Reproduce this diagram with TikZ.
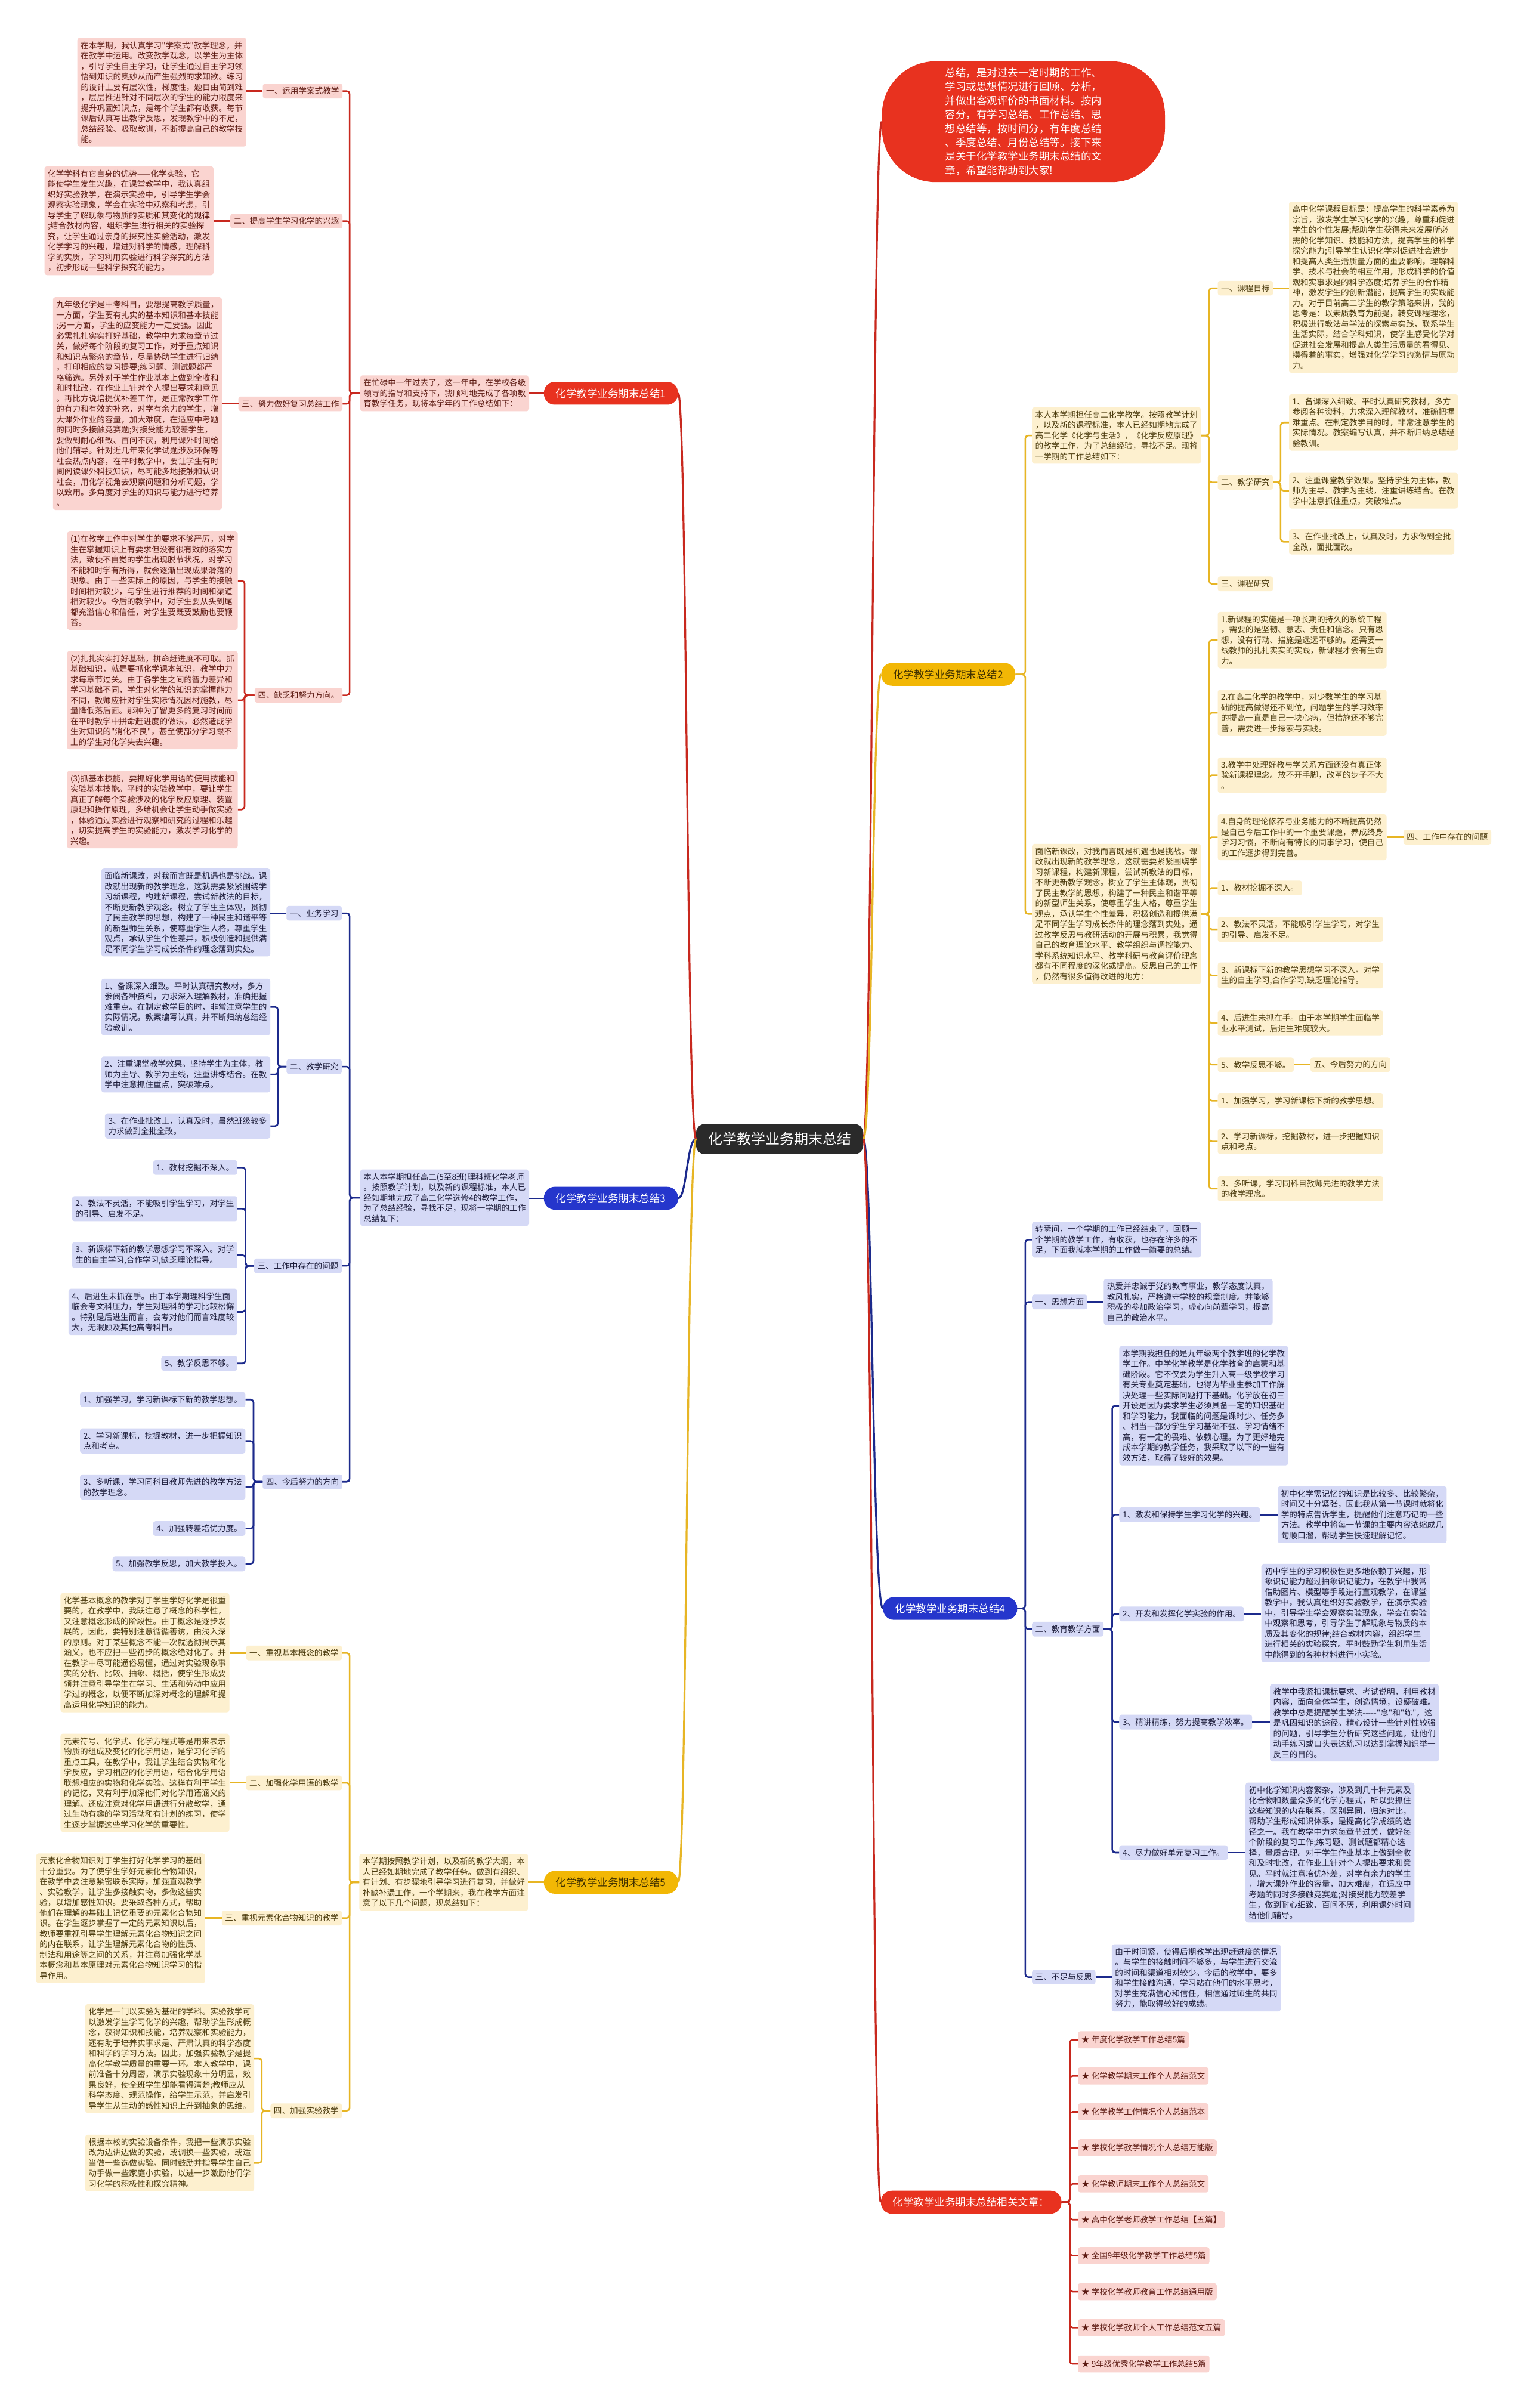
\documentclass[tikz,border=0pt]{standalone}
\usepackage{fontspec}
\setmainfont{Noto Sans CJK SC}[Ligatures=TeXOff]
\usetikzlibrary{calc}
\definecolor{rmain}{HTML}{E8321F}
\definecolor{rline}{HTML}{C8281E}
\definecolor{rfill}{HTML}{FAD4D0}
\definecolor{rtext}{HTML}{5C1A12}
\definecolor{bmain}{HTML}{2536CC}
\definecolor{bline}{HTML}{1C2A8C}
\definecolor{bfill}{HTML}{D5D9F6}
\definecolor{btext}{HTML}{1C1C3A}
\definecolor{gmain}{HTML}{F2B705}
\definecolor{gline}{HTML}{E7B524}
\definecolor{gfill}{HTML}{FDF0CF}
\definecolor{gtext}{HTML}{4A3A0C}
\definecolor{gdark}{HTML}{3F3000}
\definecolor{cfill}{HTML}{2A2A2A}
\begin{document}
\begin{tikzpicture}[x=2.5755pt,y=-2.5755pt,
  boxbase/.style={rounded corners=4pt, inner xsep=5.6pt, inner ysep=6pt, align=left, font=\fontsize{13.6}{17.5}\selectfont},
  leafR/.style={boxbase, fill=rfill, text=rtext},
  leafB/.style={boxbase, fill=bfill, text=btext},
  leafG/.style={boxbase, fill=gfill, text=gtext},
  itemR/.style={leafR, inner xsep=6pt, inner ysep=8pt},
  mainbase/.style={rounded corners=18pt, inner xsep=20pt, inner ysep=11pt, font=\fontsize{17.5}{21}\selectfont},
  mainR/.style={mainbase, fill=rmain, text=white},
  mainB/.style={mainbase, fill=bmain, text=white},
  mainG/.style={mainbase, fill=gmain, text=gdark},
  centerbox/.style={rounded corners=14pt, fill=cfill, text=white, inner xsep=20pt, inner ysep=14pt, font=\fontsize{24}{28}\selectfont},
  bubble/.style={rounded corners=90pt, fill=rmain, text=white, align=left, inner xsep=106pt, inner ysep=11pt, font=\fontsize{17.5}{23.4}\selectfont},
  lineR/.style={draw=rline, line width=2.6pt, rounded corners=5pt},
  lineB/.style={draw=bline, line width=2.6pt, rounded corners=5pt},
  lineG/.style={draw=gline, line width=2.6pt, rounded corners=5pt},
  curveR/.style={draw=rline, line width=3.2pt},
  curveB/.style={draw=bline, line width=3.2pt},
  curveG/.style={draw=gline, line width=3.2pt}
]
\fill[white] (0,0) rectangle (994,1567.5);
\path[use as bounding box] (0,0) rectangle (994,1567.5);

% ---------- center and bubble ----------
\node[centerbox] (C) at (507.5,741.5) {化学教学业务期末总结};
\node[bubble, anchor=west] (B) at (574,79.2) {总结，是对过去一定时期的工作、\\学习或思想情况进行回顾、分析，\\并做出客观评价的书面材料。按内\\容分，有学习总结、工作总结、思\\想总结等，按时间分，有年度总结\\、季度总结、月份总结等。接下来\\是关于化学教学业务期末总结的文\\章，希望能帮助到大家!};

% ---------- main labels ----------
\node[mainR] (L1) at (397.7,256) {化学教学业务期末总结1};
\node[mainB] (L3) at (397.7,780) {化学教学业务期末总结3};
\node[mainG] (L5) at (397.7,1225.3) {化学教学业务期末总结5};
\node[mainG] (L2) at (617.3,439) {化学教学业务期末总结2};
\node[mainB] (L4) at (618.5,1047) {化学教学业务期末总结4};
\node[mainR, anchor=east] (L6) at (691,1433.5) {化学教学业务期末总结相关文章：};

% ---------- section 1 ----------
\coordinate (T1) at (227.6,0);
\coordinate (T14) at (159.2,0);
\node[leafR, anchor=east] (I1) at (344.5,256) {在忙碌中一年过去了，这一年中，在学校各级\\领导的指导和支持下，我顺利地完成了各项教\\育教学任务，现将本学年的工作总结如下：};
\node[leafR, anchor=east] (S11) at (223,59.3) {一、运用学案式教学};
\node[leafR, anchor=east] (S12) at (223,143.9) {二、提高学生学习化学的兴趣};
\node[leafR, anchor=east] (S13) at (223,262.9) {三、努力做好复习总结工作};
\node[leafR, anchor=east] (S14) at (223,452.6) {四、缺乏和努力方向。};
\node[leafR, anchor=east] (P11) at (160.4,60) {在本学期，我认真学习"学案式"教学理念，并\\在教学中运用。改变教学观念，以学生为主体\\，引导学生自主学习，让学生通过自主学习领\\悟到知识的奥妙从而产生强烈的求知欲。练习\\的设计上要有层次性，梯度性，题目由简到难\\，层层推进针对不同层次的学生的能力限度来\\提升巩固知识点，是每个学生都有收获。每节\\课后认真写出教学反思，发现教学中的不足，\\总结经验、吸取教训，不断提高自己的教学技\\能。};
\node[leafR, anchor=east] (P12) at (139,143.7) {化学学科有它自身的优势——化学实验，它\\能使学生发生兴趣，在课堂教学中，我认真组\\织好实验教学，在演示实验中，引导学生学会\\观察实验现象，学会在实验中观察和考虑，引\\导学生了解现象与物质的实质和其变化的规律\\;结合教材内容，组织学生进行相关的实验探\\究，让学生通过亲身的探究性实验活动，激发\\化学学习的兴趣，增进对科学的情感，理解科\\学的实质，学习利用实验进行科学探究的方法\\，初步形成一些科学探究的能力。};
\node[leafR, anchor=east] (P13) at (144.5,262.7) {九年级化学是中考科目，要想提高教学质量，\\一方面，学生要有扎实的基本知识和基本技能\\;另一方面，学生的应变能力一定要强。因此\\必需扎扎实实打好基础，教学中力求每章节过\\关，做好每个阶段的复习工作，对于重点知识\\和知识点繁杂的章节，尽量协助学生进行归纳\\，打印相应的复习提要;练习题、测试题都严\\格筛选。另外对于学生作业基本上做到全收和\\和时批改，在作业上针对个人提出要求和意见\\。再比方说培提优补差工作，是正常教学工作\\的有力和有效的补充，对学有余力的学生，增\\大课外作业的容量，加大难度，在适应中考题\\的同时多接触竞赛题;对接受能力较差学生，\\要做到耐心细致、百问不厌，利用课外时间给\\他们辅导。针对近几年来化学试题涉及环保等\\社会热点内容，在平时教学中，要让学生有时\\间阅读课外科技知识，尽可能多地接触和认识\\社会，用化学视角去观察问题和分析问题，学\\以致用。多角度对学生的知识与能力进行培养\\。};
\node[leafR, anchor=east] (P141) at (154.9,378) {(1)在教学工作中对学生的要求不够严厉，对学\\生在掌握知识上有要求但没有很有效的落实方\\法，致使不自觉的学生出现脱节状况，对学习\\不能和时学有所得，就会逐渐出现成果滑落的\\现象。由于一些实际上的原因，与学生的接触\\时间相对较少，与学生进行推荐的时间和渠道\\相对较少。今后的教学中，对学生要从头到尾\\都充溢信心和信任，对学生要既要鼓励也要鞭\\笞。};
\node[leafR, anchor=east] (P142) at (154.9,455.8) {(2)扎扎实实打好基础，拼命赶进度不可取。抓\\基础知识，就是要抓化学课本知识，教学中力\\求每章节过关。由于各学生之间的智力差异和\\学习基础不同，学生对化学的知识的掌握能力\\不同，教师应针对学生实际情况因材施教，尽\\量降低落后面。那种为了留更多的复习时间而\\在平时教学中拼命赶进度的做法，必然造成学\\生对知识的"消化不良"，甚至使部分学习跟不\\上的学生对化学失去兴趣。};
\node[leafR, anchor=east] (P143) at (154.9,527) {(3)抓基本技能，要抓好化学用语的使用技能和\\实验基本技能。平时的实验教学中，要让学生\\真正了解每个实验涉及的化学反应原理、装置\\原理和操作原理，多给机会让学生动手做实验\\，体验通过实验进行观察和研究的过程和乐趣\\，切实提高学生的实验能力，激发学习化学的\\兴趣。};

% ---------- section 3 ----------
\coordinate (T3) at (227.6,0);
\coordinate (T32) at (181,0);
\coordinate (T33) at (159.8,0);
\coordinate (T34) at (165,0);
\node[leafB, anchor=east] (I3) at (344.5,779.6) {本人本学期担任高二(5至8班)理科班化学老师\\。按照教学计划，以及新的课程标准，本人已\\经如期地完成了高二化学选修4的教学工作，\\为了总结经验，寻找不足，现将一学期的工作\\总结如下：};
\node[leafB, anchor=east] (S31) at (222.6,594.5) {一、业务学习};
\node[leafB, anchor=east] (S32) at (222.6,694.3) {二、教学研究};
\node[leafB, anchor=east] (S33) at (222.6,824) {三、工作中存在的问题};
\node[leafB, anchor=east] (S34) at (222.9,964.6) {四、今后努力的方向};
\node[leafB, anchor=east] (P31) at (176,594) {面临新课改，对我而言既是机遇也是挑战。课\\改就出现新的教学理念，这就需要紧紧围绕学\\习新课程，构建新课程，尝试新教法的目标，\\不断更新教学观念。树立了学生主体观，贯彻\\了民主教学的思想，构建了一种民主和谐平等\\的新型师生关系，使尊重学生人格，尊重学生\\观点，承认学生个性差异，积极创造和提供满\\足不同学生学习成长条件的理念落到实处。};
\node[leafB, anchor=east] (P321) at (176,655.5) {1、备课深入细致。平时认真研究教材，多方\\参阅各种资料，力求深入理解教材，准确把握\\难重点。在制定教学目的时，非常注意学生的\\实际情况。教案编写认真，并不断归纳总结经\\验教训。};
\node[leafB, anchor=east] (P322) at (176,699.4) {2、注重课堂教学效果。坚持学生为主体，教\\师为主导、教学为主线，注重讲练结合。在教\\学中注意抓住重点，突破难点。};
\node[leafB, anchor=east] (P323) at (176,733) {3、在作业批改上，认真及时，虽然班级较多\\力求做到全批全改。};
\node[leafB, anchor=east] (P331) at (154.6,760) {1、教材挖掘不深入。};
\node[leafB, anchor=east] (P332) at (154.6,786.8) {2、教法不灵活，不能吸引学生学习，对学生\\的引导、启发不足。};
\node[leafB, anchor=east] (P333) at (154.6,817) {3、新课标下新的教学思想学习不深入。对学\\生的自主学习,合作学习,缺乏理论指导。};
\node[leafB, anchor=east] (P334) at (154.6,854) {4、后进生未抓在手。由于本学期理科学生面\\临会考文科压力，学生对理科的学习比较松懈\\。特别是后进生而言，会考对他们而言难度较\\大，无暇顾及其他高考科目。};
\node[leafB, anchor=east] (P335) at (154.6,887.5) {5、教学反思不够。};
\node[leafB, anchor=east] (P341) at (159.8,911) {1、加强学习，学习新课标下新的教学思想。};
\node[leafB, anchor=east] (P342) at (159.8,938) {2、学习新课标，挖掘教材，进一步把握知识\\点和考点。};
\node[leafB, anchor=east] (P343) at (159.8,968) {3、多听课，学习同科目教师先进的教学方法\\的教学理念。};
\node[leafB, anchor=east] (P344) at (159.8,995) {4、加强转差培优力度。};
\node[leafB, anchor=east] (P345) at (159.8,1018) {5、加强教学反思，加大教学投入。};

% ---------- section 5 ----------
\coordinate (T5) at (227.6,0);
\coordinate (T54) at (170.4,0);
\node[leafG, anchor=east] (I5) at (343.9,1225.3) {本学期按照教学计划，以及新的教学大纲，本\\人已经如期地完成了教学任务。做到有组织、\\有计划、有步骤地引导学习进行复习，并做好\\补缺补漏工作。一个学期来，我在教学方面注\\意了以下几个问题，现总结如下：};
\node[leafG, anchor=east] (S51) at (222.7,1076) {一、重视基本概念的教学};
\node[leafG, anchor=east] (S52) at (222.7,1160.6) {二、加强化学用语的教学};
\node[leafG, anchor=east] (S53) at (222.7,1248.6) {三、重视元素化合物知识的教学};
\node[leafG, anchor=east] (S54) at (222.7,1374) {四、加强实验教学};
\node[leafG, anchor=east] (P51) at (149.4,1075.8) {化学基本概念的教学对于学生学好化学是很重\\要的，在教学中，我既注意了概念的科学性，\\又注意概念形成的阶段性。由于概念是逐步发\\展的，因此，要特别注意循循善诱，由浅入深\\的原则。对于某些概念不能一次就透彻揭示其\\涵义，也不应把一些初步的概念绝对化了。并\\在教学中尽可能通俗易懂，通过对实验现象事\\实的分析、比较、抽象、概括，使学生形成要\\领并注意引导学生在学习、生活和劳动中应用\\学过的概念，以便不断加深对概念的理解和提\\高运用化学知识的能力。};
\node[leafG, anchor=east] (P52) at (149.4,1160.5) {元素符号、化学式、化学方程式等是用来表示\\物质的组成及变化的化学用语，是学习化学的\\重点工具。在教学中，我让学生结合实物和化\\学反应，学习相应的化学用语，结合化学用语\\联想相应的实物和化学实验。这样有利于学生\\的记忆，又有利于加深他们对化学用语涵义的\\理解。还应注意对化学用语进行分散教学，通\\过生动有趣的学习活动和有计划的练习，使学\\生逐步掌握这些学习化学的重要性。};
\node[leafG, anchor=east] (P53) at (133.6,1248.7) {元素化合物知识对于学生打好化学学习的基础\\十分重要。为了使学生学好元素化合物知识，\\在教学中要注意紧密联系实际，加强直观教学\\、实验教学，让学生多接触实物，多做这些实\\验，以增加感性知识。要采取各种方式，帮助\\他们在理解的基础上记忆重要的元素化合物知\\识。在学生逐步掌握了一定的元素知识以后，\\教师要重视引导学生理解元素化合物知识之间\\的内在联系，让学生理解元素化合物的性质、\\制法和用途等之间的关系，并注意加强化学基\\本概念和基本原理对元素化合物知识学习的指\\导作用。};
\node[leafG, anchor=east] (P541) at (165.5,1340) {化学是一门以实验为基础的学科。实验教学可\\以激发学生学习化学的兴趣，帮助学生形成概\\念，获得知识和技能，培养观察和实验能力，\\还有助于培养实事求是、严肃认真的科学态度\\和科学的学习方法。因此，加强实验教学是提\\高化学教学质量的重要一环。本人教学中，课\\前准备十分周密，演示实验现象十分明显，效\\果良好，使全班学生都能看得清楚;教师应从\\科学态度、规范操作，给学生示范，并启发引\\导学生从生动的感性知识上升到抽象的思维。};
\node[leafG, anchor=east] (P542) at (165.5,1408) {根据本校的实验设备条件，我把一些演示实验\\改为边讲边做的实验，或调换一些实验，或适\\当做一些选做实验。同时鼓励并指导学生自己\\动手做一些家庭小实验，以进一步激励他们学\\习化学的积极性和探究精神。};

% ---------- section 2 ----------
\coordinate (T2) at (667.4,0);
\coordinate (TA) at (787,0);
\coordinate (TA2) at (833.6,0);
\coordinate (TB) at (787,0);
\node[leafG, anchor=west] (IA) at (671.7,283.5) {本人本学期担任高二化学教学。按照教学计划\\，以及新的课程标准，本人已经如期地完成了\\高二化学《化学与生活》，《化学反应原理》\\的教学工作，为了总结经验，寻找不足。现将\\一学期的工作总结如下：};
\node[leafG, anchor=west] (IB) at (671.7,595) {面临新课改，对我而言既是机遇也是挑战。课\\改就出现新的教学理念，这就需要紧紧围绕学\\习新课程，构建新课程，尝试新教法的目标，\\不断更新教学观念。树立了学生主体观，贯彻\\了民主教学的思想，构建了一种民主和谐平等\\的新型师生关系，使尊重学生人格，尊重学生\\观点，承认学生个性差异，积极创造和提供满\\足不同学生学习成长条件的理念落到实处。通\\过教学反思与教研活动的开展与积累，我觉得\\自己的教育理论水平、教学组织与调控能力、\\学科系统知识水平、教学科研与教育评价理念\\都有不同程度的深化或提高。反思自己的工作\\，仍然有很多值得改进的地方：};
\node[leafG, anchor=west] (SA1) at (792.6,187.6) {一、课程目标};
\node[leafG, anchor=west] (SA2) at (792.6,314) {二、教学研究};
\node[leafG, anchor=west] (SA3) at (792.6,380) {三、课程研究};
\node[leafG, anchor=west] (PA1) at (839,187) {高中化学课程目标是：提高学生的科学素养为\\宗旨，激发学生学习化学的兴趣，尊重和促进\\学生的个性发展;帮助学生获得未来发展所必\\需的化学知识、技能和方法，提高学生的科学\\探究能力;引导学生认识化学对促进社会进步\\和提高人类生活质量方面的重要影响，理解科\\学、技术与社会的相互作用，形成科学的价值\\观和实事求是的科学态度;培养学生的合作精\\神，激发学生的创新潜能，提高学生的实践能\\力。对于目前高二学生的教学策略来讲，我的\\思考是：以素质教育为前提，转变课程理念，\\积极进行教法与学法的探索与实践，联系学生\\生活实际，结合学科知识，使学生感受化学对\\促进社会发展和提高人类生活质量的看得见、\\摸得着的事实，增强对化学学习的激情与原动\\力。};
\node[leafG, anchor=west] (PA21) at (839,275) {1、备课深入细致。平时认真研究教材，多方\\参阅各种资料，力求深入理解教材，准确把握\\难重点。在制定教学目的时，非常注意学生的\\实际情况。教案编写认真，并不断归纳总结经\\验教训。};
\node[leafG, anchor=west] (PA22) at (839,319.4) {2、注重课堂教学效果。坚持学生为主体，教\\师为主导、教学为主线，注重讲练结合。在教\\学中注意抓住重点，突破难点。};
\node[leafG, anchor=west] (PA23) at (839,352.7) {3、在作业批改上，认真及时，力求做到全批\\全改，面批面改。};
\node[leafG, anchor=west] (QB1) at (792.6,416.7) {1.新课程的实施是一项长期的持久的系统工程\\，需要的是坚韧、意志、责任和信念。只有思\\想，没有行动、措施是远远不够的。还需要一\\线教师的扎扎实实的实践，新课程才会有生命\\力。};
\node[leafG, anchor=west] (QB2) at (792.6,464) {2.在高二化学的教学中，对少数学生的学习基\\础的提高做得还不到位，问题学生的学习效率\\的提高一直是自己一块心病，但措施还不够完\\善，需要进一步探索与实践。};
\node[leafG, anchor=west] (QB3) at (792.6,504.6) {3.教学中处理好教与学关系方面还没有真正体\\验新课程理念。放不开手脚，改革的步子不大\\。};
\node[leafG, anchor=west] (QB4) at (792.6,545) {4.自身的理论修养与业务能力的不断提高仍然\\是自己今后工作中的一个重要课题，养成终身\\学习习惯，不断向有特长的同事学习，使自己\\的工作逐步得到完善。};
\node[leafG, anchor=west] (RB4) at (913.5,545) {四、工作中存在的问题};
\node[leafG, anchor=west] (QB5) at (792.6,578) {1、教材挖掘不深入。};
\node[leafG, anchor=west] (QB6) at (792.6,605) {2、教法不灵活，不能吸引学生学习，对学生\\的引导、启发不足。};
\node[leafG, anchor=west] (QB7) at (792.6,635) {3、新课标下新的教学思想学习不深入。对学\\生的自主学习,合作学习,缺乏理论指导。};
\node[leafG, anchor=west] (QB8) at (792.6,666) {4、后进生未抓在手。由于本学期学生面临学\\业水平测试，后进生难度较大。};
\node[leafG, anchor=west] (QB9) at (792.6,693) {5、教学反思不够。};
\node[leafG, anchor=west] (RB9) at (853,693) {五、今后努力的方向};
\node[leafG, anchor=west] (QB10) at (792.6,716.5) {1、加强学习，学习新课标下新的教学思想。};
\node[leafG, anchor=west] (QB11) at (792.6,743) {2、学习新课标，挖掘教材，进一步把握知识\\点和考点。};
\node[leafG, anchor=west] (QB12) at (792.6,773.8) {3、多听课，学习同科目教师先进的教学方法\\的教学理念。};

% ---------- section 4 ----------
\coordinate (T4) at (667.4,0);
\coordinate (T42) at (724,0);
\node[leafB, anchor=west] (U0) at (671.7,807) {转瞬间，一个学期的工作已经结束了，回顾一\\个学期的教学工作，有收获，也存在许多的不\\足，下面我就本学期的工作做一简要的总结。};
\node[leafB, anchor=west] (S41) at (671.7,847.5) {一、思想方面};
\node[leafB, anchor=west] (P41) at (718.4,847.5) {热爱并忠诚于党的教育事业，教学态度认真，\\教风扎实，严格遵守学校的规章制度。并能够\\积极的参加政治学习，虚心向前辈学习，提高\\自己的政治水平。};
\node[leafB, anchor=west] (S42) at (671.7,1060.5) {二、教育教学方面};
\node[leafB, anchor=west] (P420) at (728.5,915) {本学期我担任的是九年级两个教学班的化学教\\学工作。中学化学教学是化学教育的启蒙和基\\础阶段。它不仅要为学生升入高一级学校学习\\有关专业奠定基础，也得为毕业生参加工作解\\决处理一些实际问题打下基础。化学放在初三\\开设是因为要求学生必须具备一定的知识基础\\和学习能力，我面临的问题是课时少、任务多\\、相当一部分学生学习基础不强、学习情绪不\\高，有一定的畏难、依赖心理。为了更好地完\\成本学期的教学任务，我采取了以下的一些有\\效方法，取得了较好的效果。};
\node[leafB, anchor=west] (S421) at (728.5,986) {1、激发和保持学生学习化学的兴趣。};
\node[leafB, anchor=west] (P421) at (831.7,986) {初中化学需记忆的知识是比较多、比较繁杂，\\时间又十分紧张，因此我从第一节课时就将化\\学的特点告诉学生，提醒他们注意巧记的一些\\方法。教学中将每一节课的主要内容浓缩成几\\句顺口溜，帮助学生快速理解记忆。};
\node[leafB, anchor=west] (S422) at (728.5,1050.6) {2、开发和发挥化学实验的作用。};
\node[leafB, anchor=west] (P422) at (821,1050) {初中学生的学习积极性更多地依赖于兴趣，形\\象识记能力超过抽象识记能力，在教学中我常\\借助图片、模型等手段进行直观教学，在课堂\\教学中，我认真组织好实验教学，在演示实验\\中，引导学生学会观察实验现象，学会在实验\\中观察和思考，引导学生了解现象与物质的本\\质及其变化的规律;结合教材内容，组织学生\\进行相关的实验探究。平时鼓励学生利用生活\\中能得到的各种材料进行小实验。};
\node[leafB, anchor=west] (S423) at (728.5,1121) {3、精讲精练，努力提高教学效率。};
\node[leafB, anchor=west] (P423) at (826.6,1121.5) {教学中我紧扣课标要求、考试说明，利用教材\\内容，面向全体学生，创造情境，设疑破难。\\教学中总是提醒学生学法-----"念"和"练"，这\\是巩固知识的途径。精心设计一些针对性较强\\的问题，引导学生分析研究这些问题，让他们\\动手练习或口头表达练习以达到掌握知识举一\\反三的目的。};
\node[leafB, anchor=west] (S424) at (728.5,1206) {4、尽力做好单元复习工作。};
\node[leafB, anchor=west] (P424) at (810.7,1206) {初中化学知识内容繁杂，涉及到几十种元素及\\化合物和数量众多的化学方程式，所以要抓住\\这些知识的内在联系，区别异同，归纳对比，\\帮助学生形成知识体系，是提高化学成绩的途\\径之一。我在教学中力求每章节过关，做好每\\个阶段的复习工作;练习题、测试题都精心选\\择，量质合理。对于学生作业基本上做到全收\\和及时批改，在作业上针对个人提出要求和意\\见。平时就注意培优补差，对学有余力的学生\\，增大课外作业的容量，加大难度，在适应中\\考题的同时多接触竞赛题;对接受能力较差学\\生，做到耐心细致、百问不厌，利用课外时间\\给他们辅导。};
\node[leafB, anchor=west] (S43) at (671.7,1287) {三、不足与反思};
\node[leafB, anchor=west] (P43) at (723.6,1287.5) {由于时间紧，使得后期教学出现赶进度的情况\\。与学生的接触时间不够多，与学生进行交流\\的时间和渠道相对较少。今后的教学中，要多\\和学生接触沟通，学习站在他们的水平思考，\\对学生充满信心和信任，相信通过师生的共同\\努力，能取得较好的成绩。};

% ---------- related articles ----------
\coordinate (T6) at (696.4,0);
\node[itemR, anchor=west] (R1) at (701.6,1327.8) {★ 年度化学教学工作总结5篇};
\node[itemR, anchor=west] (R2) at (701.6,1351.3) {★ 化学教学期末工作个人总结范文};
\node[itemR, anchor=west] (R3) at (701.6,1374.7) {★ 化学教学工作情况个人总结范本};
\node[itemR, anchor=west] (R4) at (701.6,1398) {★ 学校化学教学情况个人总结万能版};
\node[itemR, anchor=west] (R5) at (701.6,1421.6) {★ 化学教师期末工作个人总结范文};
\node[itemR, anchor=west] (R6) at (701.6,1444.9) {★ 高中化学老师教学工作总结【五篇】};
\node[itemR, anchor=west] (R7) at (701.6,1468.3) {★ 全国9年级化学教学工作总结5篇};
\node[itemR, anchor=west] (R8) at (701.6,1491.8) {★ 学校化学教师教育工作总结通用版};
\node[itemR, anchor=west] (R9) at (701.6,1515.2) {★ 学校化学教师个人工作总结范文五篇};
\node[itemR, anchor=west] (R10) at (701.6,1538.8) {★ 9年级优秀化学教学工作总结5篇};

% ---------- center curves ----------
\draw[curveR] (C.west) .. controls ($(C.west)+(-6,0)$) and ($(C.west |- L1.east)+(-6,0)$) .. (L1.east);
\draw[curveB] (C.west) .. controls ($(C.west)+(-6,0)$) and ($(C.west |- L3.east)+(-6,0)$) .. (L3.east);
\draw[curveG] (C.west) .. controls ($(C.west)+(-6,0)$) and ($(C.west |- L5.east)+(-6,0)$) .. (L5.east);
\draw[curveR] (C.east) .. controls ($(C.east)+(6,0)$) and ($(C.east |- B.west)+(6,0)$) .. (B.west);
\draw[curveG] (C.east) .. controls ($(C.east)+(6,0)$) and ($(C.east |- L2.west)+(6,0)$) .. (L2.west);
\draw[curveB] (C.east) .. controls ($(C.east)+(6,0)$) and ($(C.east |- L4.west)+(6,0)$) .. (L4.west);
\draw[curveR] (C.east) .. controls ($(C.east)+(6,0)$) and ($(C.east |- L6.west)+(6,0)$) .. (L6.west);

% ---------- section 1 lines ----------
\draw[lineR] (L1.west) -- (L1.west -| I1.east);
\foreach \n in {S11,S12,S13,S14} \draw[lineR] (I1.west) -- (I1.west -| T1) |- (\n.east);
\draw[lineR] (S11.west) -- (S11.west -| P11.east);
\draw[lineR] (S12.west) -- (S12.west -| P12.east);
\draw[lineR] (S13.west) -- (S13.west -| P13.east);
\foreach \n in {P141,P142,P143} \draw[lineR] (S14.west) -- (S14.west -| T14) |- (\n.east);

% ---------- section 3 lines ----------
\draw[lineB] (L3.west) -- (L3.west -| I3.east);
\foreach \n in {S31,S32,S33,S34} \draw[lineB] (I3.west) -- (I3.west -| T3) |- (\n.east);
\draw[lineB] (S31.west) -- (S31.west -| P31.east);
\foreach \n in {P321,P322,P323} \draw[lineB] (S32.west) -- (S32.west -| T32) |- (\n.east);
\foreach \n in {P331,P332,P333,P334,P335} \draw[lineB] (S33.west) -- (S33.west -| T33) |- (\n.east);
\foreach \n in {P341,P342,P343,P344,P345} \draw[lineB] (S34.west) -- (S34.west -| T34) |- (\n.east);

% ---------- section 5 lines ----------
\draw[lineG] (L5.west) -- (L5.west -| I5.east);
\foreach \n in {S51,S52,S53,S54} \draw[lineG] (I5.west) -- (I5.west -| T5) |- (\n.east);
\draw[lineG] (S51.west) -- (S51.west -| P51.east);
\draw[lineG] (S52.west) -- (S52.west -| P52.east);
\draw[lineG] (S53.west) -- (S53.west -| P53.east);
\foreach \n in {P541,P542} \draw[lineG] (S54.west) -- (S54.west -| T54) |- (\n.east);

% ---------- section 2 lines ----------
\foreach \n in {IA,IB} \draw[lineG] (L2.east) -- (L2.east -| T2) |- (\n.west);
\foreach \n in {SA1,SA2,SA3} \draw[lineG] (IA.east) -- (IA.east -| TA) |- (\n.west);
\draw[lineG] (SA1.east) -- (SA1.east -| PA1.west);
\foreach \n in {PA21,PA22,PA23} \draw[lineG] (SA2.east) -- (SA2.east -| TA2) |- (\n.west);
\foreach \n in {QB1,QB2,QB3,QB4,QB5,QB6,QB7,QB8,QB9,QB10,QB11,QB12} \draw[lineG] (IB.east) -- (IB.east -| TB) |- (\n.west);
\draw[lineG] (QB4.east) -- (QB4.east -| RB4.west);
\draw[lineG] (QB9.east) -- (QB9.east -| RB9.west);

% ---------- section 4 lines ----------
\foreach \n in {U0,S41,S42,S43} \draw[lineB] (L4.east) -- (L4.east -| T4) |- (\n.west);
\draw[lineB] (S41.east) -- (S41.east -| P41.west);
\foreach \n in {P420,S421,S422,S423,S424} \draw[lineB] (S42.east) -- (S42.east -| T42) |- (\n.west);
\draw[lineB] (S421.east) -- (S421.east -| P421.west);
\draw[lineB] (S422.east) -- (S422.east -| P422.west);
\draw[lineB] (S423.east) -- (S423.east -| P423.west);
\draw[lineB] (S424.east) -- (S424.east -| P424.west);
\draw[lineB] (S43.east) -- (S43.east -| P43.west);

% ---------- related lines ----------
\foreach \n in {R1,R2,R3,R4,R5,R6,R7,R8,R9,R10} \draw[lineR] (L6.east) -- (L6.east -| T6) |- (\n.west);
\end{tikzpicture}
\end{document}
